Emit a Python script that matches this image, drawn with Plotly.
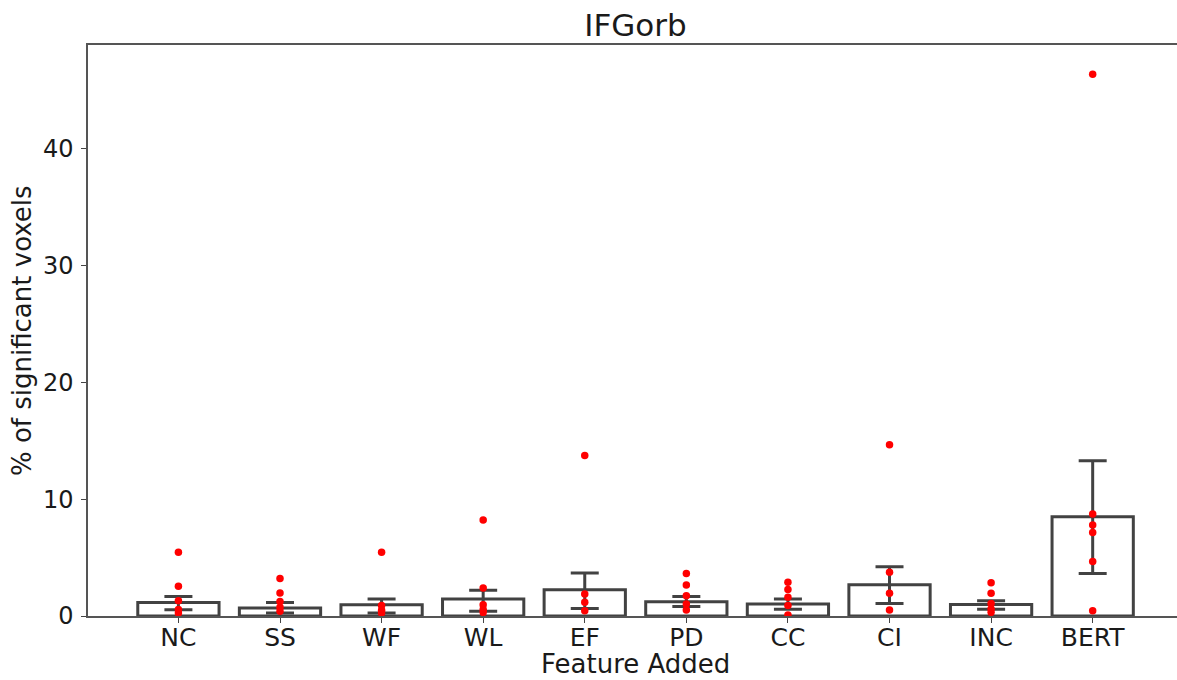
import plotly.graph_objects as go

# Feature groups along the x axis
features = ["NC", "SS", "WF", "WL", "EF", "PD", "CC", "CI", "INC", "BERT"]

# Mean % of significant voxels per feature (bar heights)
means = [1.16, 0.68, 0.97, 1.45, 2.25, 1.23, 1.03, 2.68, 0.99, 8.5]

# Confidence interval bounds per feature
ci_low = [0.54, 0.26, 0.26, 0.40, 0.65, 0.82, 0.57, 1.08, 0.57, 3.65]
ci_high = [1.68, 1.16, 1.45, 2.20, 3.68, 1.68, 1.46, 4.22, 1.31, 13.3]

# Individual subject values per feature
pts_NC = [5.45, 2.55, 1.30, 0.55, 0.25]
pts_SS = [3.22, 1.97, 1.25, 0.75, 0.40]
pts_WF = [5.45, 0.90, 0.50, 0.25]
pts_WL = [8.23, 2.40, 0.97, 0.55, 0.30]
pts_EF = [13.75, 1.88, 1.17, 0.45]
pts_PD = [3.65, 2.65, 1.74, 1.03, 0.52]
pts_CC = [2.88, 2.28, 1.60, 0.90, 0.09]
pts_CI = [14.67, 3.74, 1.94, 0.51]
pts_INC = [2.85, 1.94, 1.08, 0.60, 0.31]
pts_BERT = [46.4, 8.73, 7.80, 7.16, 4.67, 0.45]

points = [pts_NC, pts_SS, pts_WF, pts_WL, pts_EF, pts_PD, pts_CC, pts_CI, pts_INC, pts_BERT]

EDGE = "#424242"
FONT = "DejaVu Sans, Liberation Sans, sans-serif"
TEXT = "#1a1a1a"

idx = list(range(len(features)))

fig = go.Figure()

fig.add_trace(go.Bar(
    x=idx,
    y=means,
    width=0.8,
    marker=dict(color="rgba(255,255,255,0)", line=dict(color=EDGE, width=3)),
    error_y=dict(
        type="data",
        symmetric=False,
        array=[h - m for h, m in zip(ci_high, means)],
        arrayminus=[m - l for m, l in zip(means, ci_low)],
        color=EDGE,
        thickness=3,
        width=14,
    ),
    showlegend=False,
    hoverinfo="skip",
))

sx, sy = [], []
for i, vals in enumerate(points):
    sx += [i] * len(vals)
    sy += vals

fig.add_trace(go.Scatter(
    x=sx,
    y=sy,
    mode="markers",
    marker=dict(color="red", size=7.5, line=dict(width=0)),
    showlegend=False,
))

fig.update_layout(
    width=1177,
    height=680,
    margin=dict(l=88, r=0, t=45, b=64),
    paper_bgcolor="white",
    plot_bgcolor="white",
    font=dict(family=FONT, color=TEXT),
    title=dict(
        text="IFGorb",
        font=dict(size=31, family=FONT, color=TEXT),
        xref="paper",
        x=0.5028,
        xanchor="center",
        yref="container",
        y=1 - 25 / 680,
        yanchor="middle",
    ),
    xaxis=dict(
        range=[-0.89, 9.83],
        tickmode="array",
        tickvals=idx,
        ticktext=features,
        tickfont=dict(size=25),
        ticks="outside",
        ticklen=5,
        tickcolor="#444",
        ticklabelstandoff=-7,
        showline=True,
        linecolor="#555",
        linewidth=1.5,
        mirror=True,
        showgrid=False,
        zeroline=False,
    ),
    yaxis=dict(
        range=[0, 48.9],
        tickvals=[0, 10, 20, 30, 40],
        tickfont=dict(size=24),
        ticks="outside",
        ticklen=5,
        tickcolor="#444",
        ticklabelstandoff=3,
        showline=True,
        linecolor="#555",
        linewidth=1.5,
        showgrid=False,
        zeroline=False,
    ),
    annotations=[
        dict(
            text="% of significant voxels",
            xref="paper", yref="paper",
            x=(22 - 88) / 1089, y=0.499,
            xanchor="center", yanchor="middle",
            textangle=-90,
            showarrow=False,
            font=dict(size=26, family=FONT, color=TEXT),
        ),
        dict(
            text="Feature Added",
            xref="paper", yref="paper",
            x=0.5028, y=-0.084,
            xanchor="center", yanchor="middle",
            showarrow=False,
            font=dict(size=26, family=FONT, color=TEXT),
        ),
    ],
)

fig.write_html("out.html")
